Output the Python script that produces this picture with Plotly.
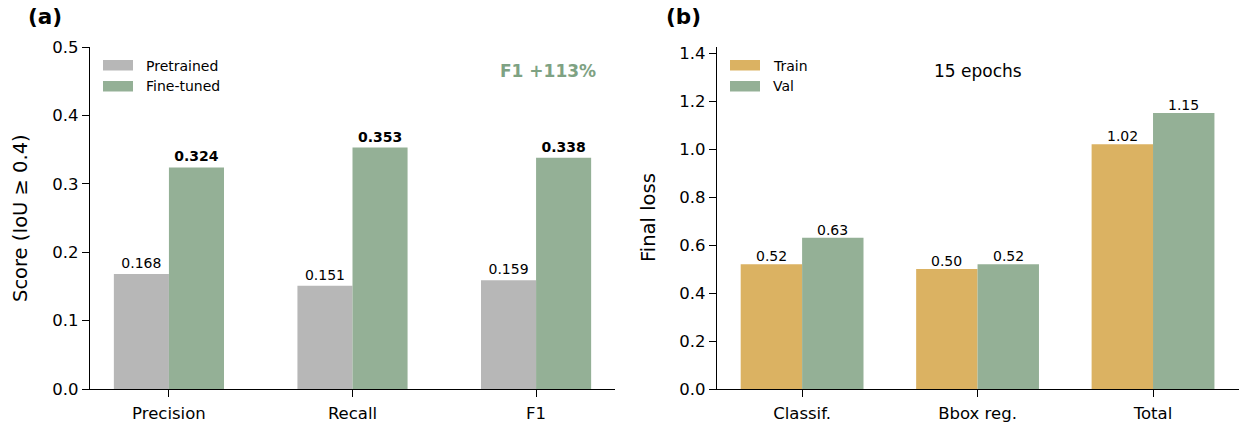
import plotly.graph_objects as go

# Panel (a) data
metrics = ["Precision", "Recall", "F1"]
pretrained = [0.168, 0.151, 0.159]
finetuned = [0.324, 0.353, 0.338]

# Panel (b) data
loss_cats = ["Classif.", "Bbox reg.", "Total"]
train_loss = [0.52, 0.50, 1.02]
val_loss = [0.63, 0.52, 1.15]

GRAY = "#b7b7b7"
GREEN = "#94b096"
ORANGE = "#dbb262"
FONT = "DejaVu Sans"

W, H = 1239, 431
T, B = 47, 42
PH = H - T - B


def py(pix):
    """pixel row from top -> paper y"""
    return (H - B - pix) / PH


def px(pix):
    return pix / W


fig = go.Figure()


def bar(x, y, name, color, offset, width, xa, ya, texts=None):
    kw = {}
    if texts is not None:
        kw = dict(text=texts, textposition="outside",
                  textfont=dict(size=14, color="black", family=FONT))
    return go.Bar(x=x, y=y, name=name, marker=dict(color=color, line=dict(width=0)),
                  offset=offset, width=width, xaxis=xa, yaxis=ya,
                  cliponaxis=False, showlegend=False, **kw)


fig.add_trace(bar(metrics, pretrained, "Pretrained", GRAY, -0.3, 0.3, "x", "y",
                  [f"{v:.3f}" for v in pretrained]))
fig.add_trace(bar(metrics, finetuned, "Fine-tuned", GREEN, 0, 0.3, "x", "y",
                  [f"<b>{v:.3f}</b>" for v in finetuned]))
fig.add_trace(bar(loss_cats, train_loss, "Train", ORANGE, -0.35, 0.35, "x2", "y2"))
fig.add_trace(bar(loss_cats, val_loss, "Val", GREEN, 0, 0.35, "x2", "y2"))

axis_common = dict(showline=True, linecolor="black", linewidth=1.3, ticks="outside",
                   ticklen=7, tickwidth=1.3, tickcolor="black", showgrid=False,
                   zeroline=False, automargin=False,
                   tickfont=dict(size=16.5, color="black", family=FONT))

fig.update_layout(
    width=W, height=H,
    margin=dict(l=0, r=0, t=T, b=B, autoexpand=False),
    paper_bgcolor="white", plot_bgcolor="white",
    font=dict(family=FONT, color="black"),
    barmode="overlay",
    showlegend=False,
    xaxis=dict(domain=[px(90), px(615)], range=[-0.43, 2.43], anchor="y",
               ticklabelstandoff=2, **axis_common),
    yaxis=dict(range=[0, 0.5], dtick=0.1, tickformat=".1f", anchor="x", **axis_common),
    xaxis2=dict(domain=[px(717), 1.0], range=[-0.485, 2.49], anchor="y2",
                ticklabelstandoff=2, **axis_common),
    yaxis2=dict(range=[0, 1.425], dtick=0.2, tickformat=".1f", anchor="x2", **axis_common),
)

# legend drawn as swatches + labels (matplotlib-style wide patches)
legend_items = [
    (103, 60, "Pretrained", GRAY),
    (103, 81, "Fine-tuned", GREEN),
    (730, 60, "Train", ORANGE),
    (730, 81, "Val", GREEN),
]
shapes = []
ann = []
for lx, ly, label, col in legend_items:
    shapes.append(dict(type="rect", xref="paper", yref="paper",
                       x0=px(lx), x1=px(lx + 30), y0=py(ly + 10.5), y1=py(ly),
                       fillcolor=col, line=dict(width=0)))
    ann.append(dict(text=label, x=px(lx + 41), y=py(ly + 5.5), xref="paper", yref="paper",
                    showarrow=False, font=dict(size=14, family=FONT, color="black"),
                    xanchor="left", yanchor="middle"))

# value labels for panel (b), hugging the bar tops
for i, (tv, vv) in enumerate(zip(train_loss, val_loss)):
    for xoff, v in ((-0.175, tv), (0.175, vv)):
        ann.append(dict(text=f"{v:.2f}", x=i + xoff, y=v, xref="x2", yref="y2",
                        showarrow=False, font=dict(size=14, family=FONT, color="black"),
                        xanchor="center", yanchor="bottom", yshift=-2))

ann.append(dict(text="<b>(a)</b>", x=px(45), y=py(17), xref="paper", yref="paper",
                showarrow=False, font=dict(size=21.5, family=FONT), xanchor="center", yanchor="middle"))
ann.append(dict(text="<b>(b)</b>", x=px(683), y=py(17), xref="paper", yref="paper",
                showarrow=False, font=dict(size=21.5, family=FONT), xanchor="center", yanchor="middle"))
ann.append(dict(text="Score (IoU ≥ 0.4)", x=px(20), y=py(218), xref="paper", yref="paper",
                showarrow=False, textangle=-90, font=dict(size=19.5, family=FONT),
                xanchor="center", yanchor="middle"))
ann.append(dict(text="Final loss", x=px(648), y=py(218), xref="paper", yref="paper",
                showarrow=False, textangle=-90, font=dict(size=19.5, family=FONT),
                xanchor="center", yanchor="middle"))
ann.append(dict(text="<b>F1 +113%</b>", x=px(548), y=py(71), xref="paper", yref="paper",
                showarrow=False, font=dict(size=17, family=FONT, color="#7ea283"),
                xanchor="center", yanchor="middle"))
ann.append(dict(text="15 epochs", x=px(978), y=py(71), xref="paper", yref="paper",
                showarrow=False, font=dict(size=17, family=FONT, color="black"),
                xanchor="center", yanchor="middle"))
fig.update_layout(annotations=ann, shapes=shapes)

fig.write_html("out.html", config={"displayModeBar": False},
               post_script="document.body.style.margin='0';")
